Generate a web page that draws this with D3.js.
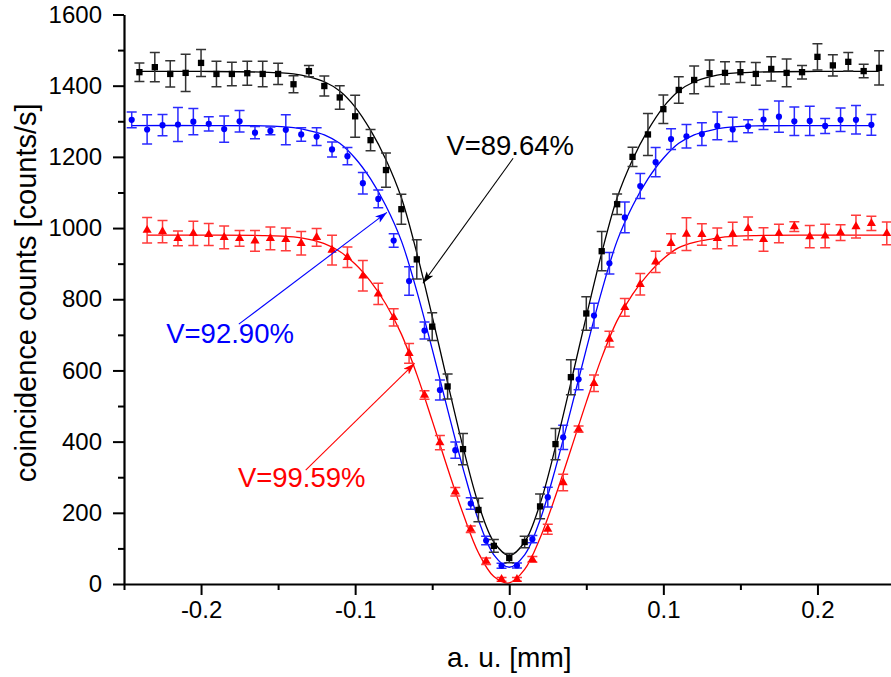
<!DOCTYPE html>
<html>
<head>
<meta charset="utf-8">
<script src="https://cdn.jsdelivr.net/npm/d3@7"></script>
<style>
  body { margin: 0; background: #fff; }
  svg { display: block; }
</style>
</head>
<body>
<svg></svg>
<script>
/* globals d3 */

const width = 891;
const height = 677;

// black squares
const blackX = [-0.24, -0.23, -0.22, -0.21, -0.20, -0.19, -0.18, -0.17, -0.16, -0.15, -0.14, -0.13, -0.12, -0.11, -0.10, -0.09, -0.08,
  -0.07, -0.06, -0.05, -0.04, -0.03, -0.02, -0.01, 0.00, 0.01, 0.02, 0.03, 0.04, 0.05, 0.06, 0.07,
  0.08, 0.09, 0.10, 0.11, 0.12, 0.13, 0.14, 0.15, 0.16, 0.17, 0.18, 0.19, 0.20, 0.21, 0.22, 0.23, 0.24];
const blackY = [1438, 1452, 1433, 1436, 1464, 1433, 1433, 1435, 1433, 1433, 1404, 1441, 1399, 1367, 1314, 1247, 1163,
  1053, 912, 723, 555, 379, 208, 107, 73, 118, 218, 393, 581, 760, 935, 1067,
  1200, 1263, 1334, 1388, 1416, 1435, 1436, 1438, 1433, 1447, 1436, 1438, 1481, 1457, 1467, 1441, 1450];
const blackErr = [26, 41, 37, 52, 38, 36, 33, 34, 36, 30, 24, 16, 28, 33, 59, 30, 48,
  42, 55, 39, 35, 44, 33, 18, 13, 16, 35, 44, 49, 47, 55, 29,
  27, 59, 40, 37, 39, 37, 31, 29, 32, 34, 39, 19, 37, 30, 26, 19, 48];

// blue circles
const blueX = [-0.245, -0.235, -0.225, -0.215, -0.205, -0.195, -0.185, -0.175, -0.165, -0.155, -0.145, -0.135, -0.125, -0.115, -0.105, -0.095, -0.085,
  -0.075, -0.065, -0.055, -0.045, -0.035, -0.025, -0.015, -0.005, 0.005, 0.015, 0.025, 0.035, 0.045, 0.055, 0.065, 0.075,
  0.085, 0.095, 0.105, 0.115, 0.125, 0.135, 0.145, 0.155, 0.165, 0.175, 0.185, 0.195, 0.205, 0.215, 0.225, 0.235];
const blueY = [1304, 1277, 1289, 1291, 1299, 1293, 1278, 1300, 1268, 1273, 1276, 1263, 1257, 1221, 1202, 1126, 1082,
  965, 851, 712, 545, 376, 226, 122, 51, 52, 126, 244, 412, 575, 754, 901, 1030,
  1118, 1185, 1250, 1258, 1264, 1287, 1277, 1286, 1305, 1313, 1300, 1301, 1287, 1304, 1304, 1290];
const blueErr = [22, 41, 30, 48, 37, 20, 37, 30, 17, 11, 42, 19, 25, 21, 24, 30, 25,
  19, 40, 24, 28, 23, 16, 12, 7, 7, 10, 28, 34, 29, 35, 30, 43,
  35, 41, 29, 33, 32, 39, 34, 18, 28, 44, 40, 41, 21, 33, 40, 29];

// red triangles
const redX = [-0.235, -0.225, -0.215, -0.205, -0.195, -0.185, -0.175, -0.165, -0.155, -0.145, -0.135, -0.125, -0.115, -0.105, -0.095, -0.085, -0.075,
  -0.065, -0.055, -0.045, -0.035, -0.025, -0.015, -0.005, 0.005, 0.015, 0.025, 0.035, 0.045, 0.055,
  0.065, 0.075, 0.085, 0.095, 0.105, 0.115, 0.125, 0.135, 0.145, 0.155, 0.165, 0.175, 0.185, 0.195, 0.205, 0.215, 0.225, 0.235, 0.245];
const redY = [994, 990, 971, 985, 982, 974, 971, 964, 971, 968, 957, 974, 938, 918, 866, 815, 749,
  648, 531, 397, 259, 154, 64, 13, 13, 69, 154, 285, 435, 564,
  688, 777, 842, 905, 957, 983, 982, 971, 983, 999, 968, 985, 1004, 976, 978, 987, 1004, 1013, 985];
const redErr = [36, 31, 21, 34, 31, 32, 22, 29, 32, 32, 33, 25, 42, 29, 43, 30, 24,
  28, 12, 20, 12, 9, 9, 5, 5, 8, 14, 23, 9, 23,
  22, 25, 30, 30, 27, 46, 30, 29, 33, 32, 33, 26, 14, 31, 33, 22, 32, 20, 32];

// fitted curves
const blackFitX = [-0.24, -0.2, -0.16, -0.14, -0.13, -0.12, -0.11, -0.10, -0.09, -0.08, -0.07, -0.06, -0.05, -0.04, -0.03, -0.02, -0.01, 0,
  0.01, 0.02, 0.03, 0.04, 0.05, 0.06, 0.07, 0.08, 0.09, 0.10, 0.11, 0.12, 0.13, 0.14, 0.16, 0.2, 0.24];
const blackFitY = [1440, 1440, 1438, 1433, 1425, 1411, 1385, 1340, 1275, 1192, 1085, 930, 752, 566, 385, 225, 118, 80,
  118, 225, 385, 566, 752, 930, 1085, 1192, 1275, 1340, 1385, 1411, 1425, 1433, 1438, 1440, 1440];

const blueFitX = [-0.245, -0.2, -0.16, -0.14, -0.13, -0.12, -0.11, -0.10, -0.09, -0.08, -0.07, -0.06, -0.05, -0.04, -0.03, -0.02, -0.01, 0,
  0.01, 0.02, 0.03, 0.04, 0.05, 0.06, 0.07, 0.08, 0.09, 0.10, 0.11, 0.12, 0.13, 0.14, 0.16, 0.2, 0.235];
const blueFitY = [1288, 1288, 1287, 1282, 1274, 1262, 1238, 1196, 1138, 1062, 964, 823, 660, 490, 325, 180, 82, 47,
  82, 180, 325, 490, 660, 823, 964, 1062, 1138, 1196, 1238, 1262, 1274, 1282, 1287, 1288, 1288];

const redFitX = [-0.235, -0.2, -0.16, -0.14, -0.13, -0.12, -0.11, -0.10, -0.09, -0.08, -0.07, -0.06, -0.05, -0.04, -0.03, -0.02, -0.01, 0,
  0.01, 0.02, 0.03, 0.04, 0.05, 0.06, 0.07, 0.08, 0.09, 0.10, 0.11, 0.12, 0.13, 0.14, 0.16, 0.2, 0.245];
const redFitY = [980, 980, 979, 975, 968, 956, 934, 899, 850, 786, 702, 589, 459, 325, 198, 88, 21, 3,
  41, 129, 247, 378, 511, 636, 740, 814, 870, 914, 945, 960, 968, 975, 979, 980, 980];

const xMajor = [-0.2, -0.1, 0, 0.1, 0.2];
const xMinor = [-0.25, -0.15, -0.05, 0.05, 0.15, 0.25];
const yMajor = [0, 200, 400, 600, 800, 1000, 1200, 1400, 1600];
const yMinor = [100, 300, 500, 700, 900, 1100, 1300, 1500];

const xLabel = "a. u. [mm]";
const yLabel = "coincidence counts [counts/s]";

// annotations: label text, label position, arrow start, arrow tip (data units)
const notes = [
  {text: "V=89.64%", color: "#000", tx: -0.0408, ty: 1205, x1: 0.0025, y1: 1196, x2: -0.0560, y2: 845},
  {text: "V=92.90%", color: "#0000ff", tx: -0.2226, ty: 678, x1: -0.1755, y1: 730, x2: -0.0794, y2: 1044},
  {text: "V=99.59%", color: "#ff0000", tx: -0.1761, ty: 273, x1: -0.1321, y1: 320, x2: -0.0614, y2: 620}
];

const series = [
  {x: redX, y: redY, e: redErr, fx: redFitX, fy: redFitY, color: "#ff0000", bar: "#ff3b3b", symbol: d3.symbolTriangle, size: 36},
  {x: blueX, y: blueY, e: blueErr, fx: blueFitX, fy: blueFitY, color: "#0000ff", bar: "#2a2aff", symbol: d3.symbolCircle, size: 30},
  {x: blackX, y: blackY, e: blackErr, fx: blackFitX, fy: blackFitY, color: "#000000", bar: "#333333", symbol: d3.symbolSquare, size: 40}
];

const marginLeft = 124;
const marginTop = 14.5;
const plotBottom = 584;
const font = "'Liberation Sans', Arial, sans-serif";

const xScale = d3.scaleLinear([-0.25, 0.25], [marginLeft, 894.5]);
const yScale = d3.scaleLinear([0, 1600], [plotBottom, marginTop]);

const svg = d3.select("svg")
    .attr("width", width)
    .attr("height", height)
    .attr("viewBox", [0, 0, width, height])
    .attr("font-family", font);

svg.append("rect")
    .attr("width", width)
    .attr("height", height)
    .attr("fill", "#fff");

const line = d3.line()
    .curve(d3.curveCatmullRom)
    .x(d => xScale(d[0]))
    .y(d => yScale(d[1]));

series.forEach(s => {
  const pts = d3.zip(s.fx, s.fy);
  svg.append("path")
      .attr("fill", "none")
      .attr("stroke", s.color)
      .attr("stroke-width", 1.3)
      .attr("d", line(pts));

  const I = d3.range(s.x.length);
  const bars = svg.append("g")
      .attr("stroke", s.bar)
      .attr("stroke-width", 1.5)
      .attr("fill", "none");

  bars.selectAll("path")
    .data(I)
    .join("path")
      .attr("d", i => {
        const cx = xScale(s.x[i]);
        const top = yScale(s.y[i] + s.e[i]);
        const bot = yScale(s.y[i] - s.e[i]);
        return `M${cx},${top}V${bot}M${cx - 5},${top}H${cx + 5}M${cx - 5},${bot}H${cx + 5}`;
      });

  svg.append("g")
      .attr("fill", s.color)
    .selectAll("path")
    .data(I)
    .join("path")
      .attr("transform", i => `translate(${xScale(s.x[i])},${yScale(s.y[i])})`)
      .attr("d", d3.symbol(s.symbol, s.size));
});

// axes
const fmt = d => d.toFixed(1);

svg.append("g")
    .attr("transform", `translate(0,${plotBottom})`)
    .call(d3.axisBottom(xScale).tickValues(xMinor).tickSize(6).tickSizeOuter(0).tickFormat(""))
    .call(g => g.select(".domain").remove())
    .call(g => g.selectAll(".tick line").attr("stroke-width", 2));

svg.append("g")
    .attr("transform", `translate(0,${plotBottom})`)
    .call(d3.axisBottom(xScale).tickValues(xMajor).tickSize(11).tickSizeOuter(0).tickPadding(6).tickFormat(fmt))
    .call(g => g.select(".domain").attr("stroke-width", 2.2))
    .call(g => g.selectAll(".tick line").attr("stroke-width", 2))
    .call(g => g.selectAll(".tick text")
        .attr("font-size", 24)
        .attr("font-family", font)
        .attr("fill", "#000"));

svg.append("g")
    .attr("transform", `translate(${marginLeft},0)`)
    .call(d3.axisLeft(yScale).tickValues(yMinor).tickSize(6).tickSizeOuter(0).tickFormat(""))
    .call(g => g.select(".domain").remove())
    .call(g => g.selectAll(".tick line").attr("stroke-width", 2));

svg.append("g")
    .attr("transform", `translate(${marginLeft},0)`)
    .call(d3.axisLeft(yScale).tickValues(yMajor).tickSize(11).tickSizeOuter(0).tickPadding(11).tickFormat(d3.format("d")))
    .call(g => g.select(".domain").attr("stroke-width", 2.2))
    .call(g => g.selectAll(".tick line").attr("stroke-width", 2))
    .call(g => g.selectAll(".tick text")
        .attr("font-size", 24)
        .attr("font-family", font)
        .attr("fill", "#000"));

svg.append("text")
    .attr("x", xScale(0))
    .attr("y", 667)
    .attr("text-anchor", "middle")
    .attr("font-size", 28)
    .text(xLabel);

svg.append("text")
    .attr("transform", `translate(36,${yScale(818)}) rotate(-90)`)
    .attr("text-anchor", "middle")
    .attr("font-size", 29)
    .text(yLabel);

// annotations
const defs = svg.append("defs");
notes.forEach((n, k) => {
  defs.append("marker")
      .attr("id", `head${k}`)
      .attr("viewBox", "0 0 12 8")
      .attr("refX", 12)
      .attr("refY", 4)
      .attr("markerWidth", 12)
      .attr("markerHeight", 8)
      .attr("markerUnits", "userSpaceOnUse")
      .attr("orient", "auto")
    .append("path")
      .attr("d", "M0,0L12,4L0,8L3,4Z")
      .attr("fill", n.color);

  svg.append("line")
      .attr("x1", xScale(n.x1))
      .attr("y1", yScale(n.y1))
      .attr("x2", xScale(n.x2))
      .attr("y2", yScale(n.y2))
      .attr("stroke", n.color)
      .attr("stroke-width", 1.1)
      .attr("marker-end", `url(#head${k})`);

  svg.append("text")
      .attr("x", xScale(n.tx))
      .attr("y", yScale(n.ty))
      .attr("fill", n.color)
      .attr("font-size", 27.5)
      .text(n.text);
});
</script>
</body>
</html>
